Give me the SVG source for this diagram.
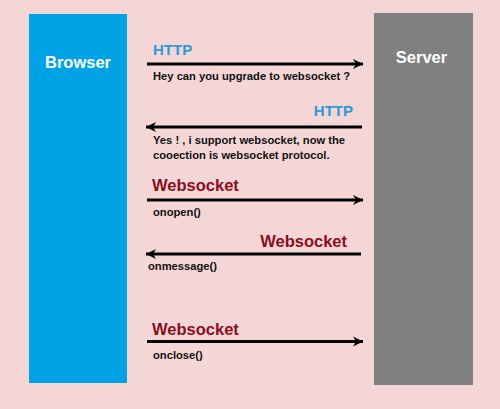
<svg xmlns="http://www.w3.org/2000/svg" width="500" height="409" viewBox="0 0 500 409">
<style>
.lbl{font-family:"Liberation Sans",Arial,sans-serif;font-weight:bold}
.node{font-size:16.5px;fill:#fff}
.http{font-size:15px;fill:#2a9ad8}
.ws{font-size:16.5px;fill:#8a0e1e}
.msg{font-size:11.2px;fill:#111}
.arr{stroke:#000;stroke-width:3;fill:none}
</style>
<defs>
<marker id="ah" markerUnits="userSpaceOnUse" markerWidth="12" markerHeight="12" viewBox="0 0 12 12" refX="11" refY="6" orient="auto">
<path d="M1,1 L11,6 L1,11 L4,6 z" fill="#000"/>
</marker>
</defs>
<rect width="500" height="409" fill="#f4d6d7"/>
<g id="browser">
<rect x="29" y="14" width="98" height="369" fill="#00a2e6"/>
<text class="lbl node" x="78" y="68" text-anchor="middle">Browser</text>
</g>
<g id="server">
<rect x="374" y="13" width="99" height="372" fill="#808080"/>
<text class="lbl node" x="421.5" y="63" text-anchor="middle">Server</text>
</g>
<g id="connectors">
<line class="arr" x1="147" y1="64" x2="363" y2="64" marker-end="url(#ah)"/>
<line class="arr" x1="362" y1="127" x2="146" y2="127" marker-end="url(#ah)"/>
<line class="arr" x1="147" y1="200" x2="363" y2="200" marker-end="url(#ah)"/>
<line class="arr" x1="361" y1="254" x2="146" y2="254" marker-end="url(#ah)"/>
<line class="arr" x1="147" y1="341.5" x2="363" y2="341.5" marker-end="url(#ah)"/>
</g>
<g id="labels">
<text class="lbl http" x="153" y="54.5">HTTP</text>
<text class="lbl msg" x="153" y="80">Hey can you upgrade to websocket ?</text>
<text class="lbl http" x="353" y="116" text-anchor="end">HTTP</text>
<text class="lbl msg" x="153" y="144">Yes ! , i support websocket, now the</text>
<text class="lbl msg" x="153" y="158.5">cooection is websocket protocol.</text>
<text class="lbl ws" x="152" y="190.5">Websocket</text>
<text class="lbl msg" x="153" y="216">onopen()</text>
<text class="lbl ws" x="347" y="246.5" text-anchor="end">Websocket</text>
<text class="lbl msg" x="148" y="270">onmessage()</text>
<text class="lbl ws" x="152" y="335">Websocket</text>
<text class="lbl msg" x="153" y="359">onclose()</text>
</g>
</svg>
